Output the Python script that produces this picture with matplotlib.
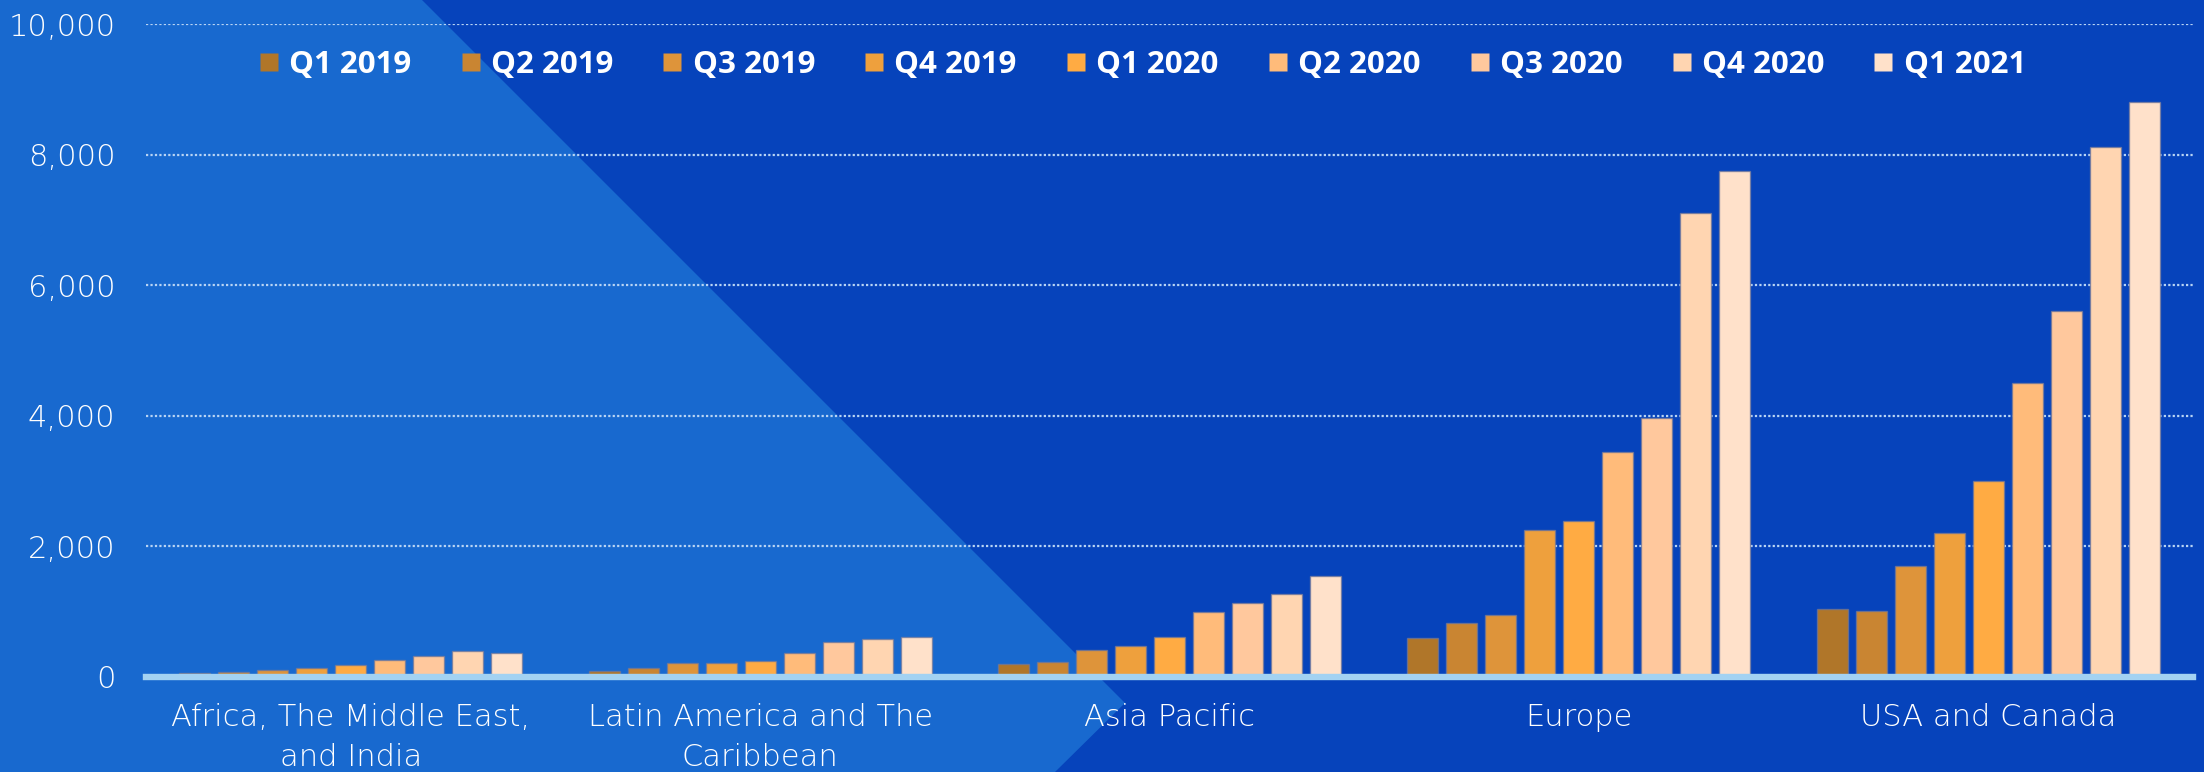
import matplotlib
matplotlib.use("Agg")
import matplotlib.pyplot as plt
from matplotlib.patches import Polygon
from matplotlib.lines import Line2D
from matplotlib.ticker import FuncFormatter
import numpy as np

# --- data -------------------------------------------------------------------
regions = [
    "Africa, The Middle East,\nand India",
    "Latin America and The\nCaribbean",
    "Asia Pacific",
    "Europe",
    "USA and Canada",
]
quarters = ["Q1 2019", "Q2 2019", "Q3 2019", "Q4 2019",
            "Q1 2020", "Q2 2020", "Q3 2020", "Q4 2020", "Q1 2021"]

q1_2019 = [55, 89, 204, 600, 1040]
q2_2019 = [69, 135, 234, 830, 1016]
q3_2019 = [104, 216, 417, 956, 1702]
q4_2019 = [145, 221, 478, 2248, 2209]
q1_2020 = [191, 247, 606, 2385, 3008]
q2_2020 = [267, 374, 992, 3453, 4505]
q3_2020 = [328, 532, 1130, 3973, 5609]
q4_2020 = [405, 583, 1272, 7110, 8120]
q1_2021 = [374, 613, 1552, 7751, 8812]

series = [q1_2019, q2_2019, q3_2019, q4_2019, q1_2020,
          q2_2020, q3_2020, q4_2020, q1_2021]

y_ticks = [0, 2000, 4000, 6000, 8000, 10000]

# --- style ------------------------------------------------------------------
colors = ["#B07629", "#C98532", "#DE943A", "#EEA03D", "#FFAB43",
          "#FFBB7A", "#FFC89D", "#FFD5B1", "#FFE1CA"]
bg_dark = "#0643BB"
bg_light = "#1869CF"
axis_blue = "#A3D2F2"
grid_col = "#B8D4F4"
light_font = ["DejaVu Sans"]
bold_font = ["Open Sans", "DejaVu Sans"]

W, H = 2204, 772
fig = plt.figure(figsize=(W / 100, H / 100), dpi=100, facecolor=bg_dark)

# background layer holding the lighter chevron panel
bg = fig.add_axes([0, 0, 1, 1], zorder=-5)
bg.set_xlim(0, W)
bg.set_ylim(H, 0)
bg.axis("off")
bg.add_patch(Polygon([(0, 0), (422, 0), (1125, 703), (1055, H), (0, H)],
                     closed=True, facecolor=bg_light, edgecolor="none"))

ax = fig.add_axes([146 / W, 1 - 677 / H, (2193 - 146) / W, (677 - 24) / H],
                  zorder=1)
ax.set_facecolor("none")

x = np.arange(len(regions))
step = 0.0953
width = 0.0757
for i, (vals, col, lab) in enumerate(zip(series, colors, quarters)):
    ax.bar(x + (i - 4) * step, vals, width=width, color=col,
           edgecolor=(0.45, 0.47, 0.6, 0.7), linewidth=1.0,
           label=lab, zorder=2)

ax.set_ylim(0, 10000)
ax.set_xlim(-0.5, len(regions) - 0.5)
ax.set_yticks(y_ticks)
ax.yaxis.set_major_formatter(FuncFormatter(lambda v, _: f"{int(v):,}"))
ax.set_xticks(x)
ax.set_xticklabels(regions, linespacing=1.45)

for yv in y_ticks[1:]:
    ax.axhline(yv, color=grid_col, linewidth=1.6,
               linestyle=(0, (1.0, 1.0)), zorder=1)
ax.axhline(0, color=axis_blue, linewidth=4.6, clip_on=False, zorder=3)

for s in ax.spines.values():
    s.set_visible(False)
ax.tick_params(axis="both", length=0, colors="white")
ax.tick_params(axis="y", pad=22)
ax.tick_params(axis="x", pad=19)
for t in ax.get_yticklabels() + ax.get_xticklabels():
    t.set_fontfamily(light_font)
    t.set_fontweight("light")
    t.set_fontsize(22)
    t.set_color("white")

handles = [Line2D([], [], marker="s", linestyle="", markersize=13,
                  markerfacecolor=c, markeredgecolor="none") for c in colors]
leg = fig.legend(handles, quarters, loc="center",
                 bbox_to_anchor=(1142 / W, 1 - 65 / H), ncol=9,
                 frameon=False, handlelength=0.7, handletextpad=0.3,
                 columnspacing=1.54,
                 prop={"family": bold_font, "weight": "bold", "size": 22.5})
for t in leg.get_texts():
    t.set_color("white")

fig.savefig("out.png", dpi=100, facecolor=bg_dark)
